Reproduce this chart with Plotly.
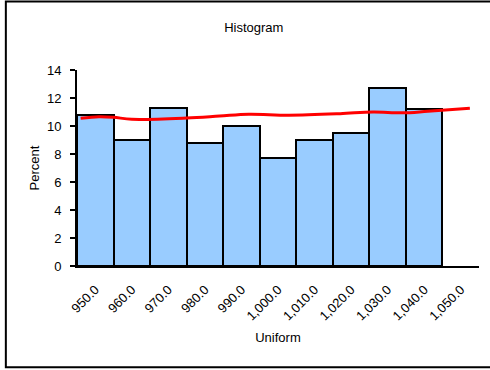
import plotly.graph_objects as go

# Bin centres (width 10) and percentage of observations per bin
bin_centers = [950, 960, 970, 980, 990, 1000, 1010, 1020, 1030, 1040]
percent = [10.8, 9.0, 11.3, 8.8, 10.0, 7.7, 9.0, 9.5, 12.7, 11.2]

# Fitted density curve (percent scale)
curve_x = [946, 951, 955, 960, 975, 984, 992, 1003, 1017, 1026, 1034, 1041, 1052.5]
curve_y = [10.55, 10.66, 10.62, 10.48, 10.57, 10.71, 10.84, 10.77, 10.88, 11.0, 10.94, 11.05, 11.26]

tick_vals = [950, 960, 970, 980, 990, 1000, 1010, 1020, 1030, 1040, 1050]
tick_text = ["950.0", "960.0", "970.0", "980.0", "990.0", "1,000.0",
             "1,010.0", "1,020.0", "1,030.0", "1,040.0", "1,050.0"]

FONT = "Liberation Sans, Arial, sans-serif"

fig = go.Figure()
fig.add_trace(go.Bar(
    x=bin_centers, y=percent, width=10,
    marker=dict(color="#99CCFF", line=dict(color="black", width=2)),
    hoverinfo="skip",
))
fig.add_trace(go.Scatter(
    x=curve_x, y=curve_y, mode="lines",
    line=dict(color="#FF0000", width=3, shape="spline"),
    hoverinfo="skip",
))

fig.update_layout(
    width=490, height=370,
    margin=dict(l=77, r=11, t=70, b=104),
    paper_bgcolor="white", plot_bgcolor="white",
    showlegend=False,
    font=dict(family=FONT, size=12, color="black"),
    title=dict(text="Histogram", x=0.518, xanchor="center", y=0.927, yanchor="middle",
               font=dict(family=FONT, size=13, color="black")),
    bargap=0,
)
fig.update_xaxes(
    range=[945, 1055], tickmode="array", tickvals=tick_vals, ticktext=tick_text,
    tickangle=-45, ticks="", showgrid=False, zeroline=False,
    showline=True, linecolor="black", linewidth=2,
    ticklabelstandoff=9,
    tickfont=dict(family=FONT, size=13, color="black"),
    title=dict(text="Uniform", standoff=10, font=dict(family=FONT, size=13, color="black")),
)
fig.update_yaxes(
    range=[0, 14], dtick=2, ticks="outside", ticklen=5, tickwidth=2, tickcolor="black",
    showgrid=False, zeroline=False, showline=True, linecolor="black", linewidth=2,
    ticklabelstandoff=6,
    tickfont=dict(family=FONT, size=13, color="black"),
    title=dict(text="Percent", standoff=4, font=dict(family=FONT, size=13, color="black")),
)

# Frame around the chart
fig.add_shape(type="rect", xref="paper", yref="paper",
              x0=-0.177, x1=1.06, y0=-0.516, y1=1.349,
              line=dict(color="black", width=2), fillcolor="rgba(0,0,0,0)")

fig.write_html("out.html")
